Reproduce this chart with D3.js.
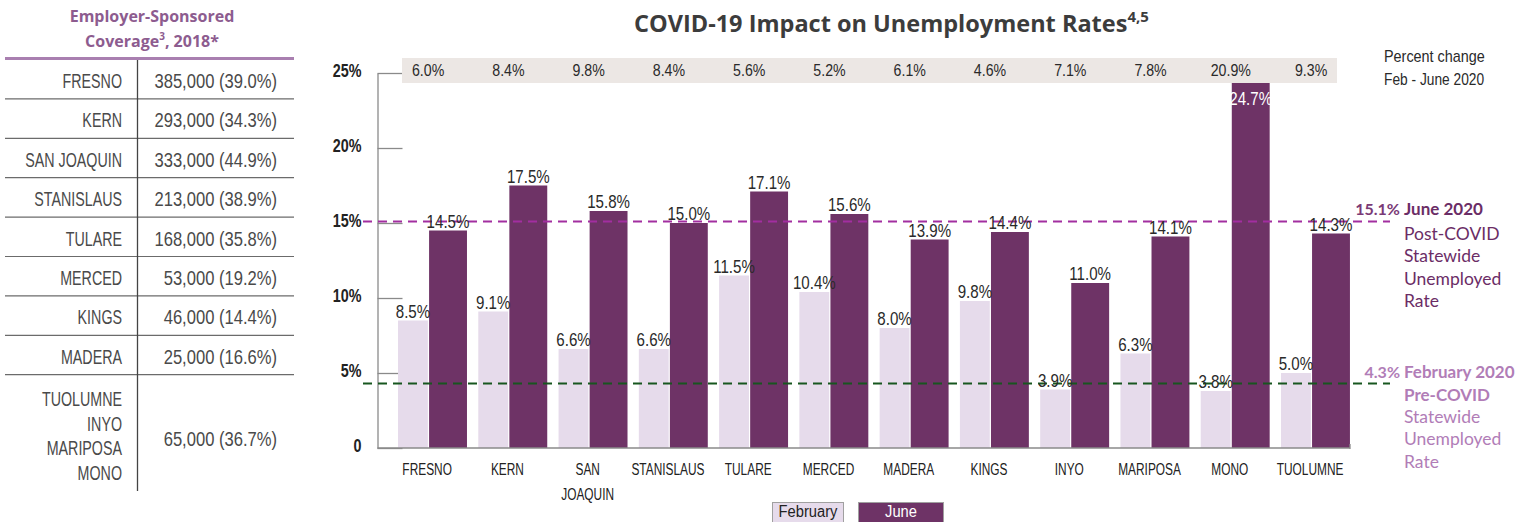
<!DOCTYPE html>
<html>
<head>
<meta charset="utf-8">
<script src="https://cdn.jsdelivr.net/npm/d3@7"></script>
<style>
  html, body { margin: 0; padding: 0; background: #fff; }
  svg { display: block; }
</style>
</head>
<body>
<svg id="chart" width="1535" height="522"></svg>
<script>
// ---------- DATA ----------
const categories = ["FRESNO","KERN","SAN JOAQUIN","STANISLAUS","TULARE","MERCED","MADERA","KINGS","INYO","MARIPOSA","MONO","TUOLUMNE"];
const febValues  = [8.5, 9.1, 6.6, 6.6, 11.5, 10.4, 8.0, 9.8, 3.9, 6.3, 3.8, 5.0];
const juneValues = [14.5, 17.5, 15.8, 15.0, 17.1, 15.6, 13.9, 14.4, 11.0, 14.1, 24.7, 14.3];
const pctChange  = ["6.0%","8.4%","9.8%","8.4%","5.6%","5.2%","6.1%","4.6%","7.1%","7.8%","20.9%","9.3%"];
const yTickValues = [0, 5, 10, 15, 20, 25];
const yTickLabels = ["0", "5%", "10%", "15%", "20%", "25%"];
const juneStatewide = 15.1;
const febStatewide = 4.3;
const seriesNames = ["February", "June"];

const tableCounties = [["FRESNO"],["KERN"],["SAN JOAQUIN"],["STANISLAUS"],["TULARE"],["MERCED"],["KINGS"],["MADERA"],["TUOLUMNE","INYO","MARIPOSA","MONO"]];
const tableValues = ["385,000 (39.0%)","293,000 (34.3%)","333,000 (44.9%)","213,000 (38.9%)","168,000 (35.8%)","53,000 (19.2%)","46,000 (14.4%)","25,000 (16.6%)","65,000 (36.7%)"];

// ---------- STYLE ----------
const FEB_COLOR = "#e6dbeb";
const JUNE_COLOR = "#6e3366";
const TEXT = "#333333";
const LIB = '"Liberation Sans", Arial, sans-serif';
const SANS = '"Open Sans", "Noto Sans", sans-serif';
const LATO = 'Lato, "Open Sans", sans-serif';

const svg = d3.select("#chart");

// condensed text helper (horizontal scaling of Liberation Sans)
function ntext(parent, x, y, str, o) {
  o = Object.assign({ size: 16, sx: 0.8, anchor: "start", weight: 400, fill: TEXT }, o || {});
  return parent.append("text")
    .attr("transform", `translate(${x},${y}) scale(${o.sx},1)`)
    .attr("text-anchor", o.anchor)
    .attr("font-family", LIB).attr("font-size", o.size).attr("font-weight", o.weight)
    .attr("fill", o.fill).text(str);
}

// ---------- TABLE ----------
const tbl = svg.append("g");
tbl.append("text").attr("x", 152).attr("y", 22).attr("text-anchor", "middle")
  .attr("font-family", SANS).attr("font-weight", 700).attr("font-size", 16).attr("fill", "#8d5c8f")
  .text("Employer-Sponsored");
const t2 = tbl.append("text").attr("x", 152).attr("y", 47).attr("text-anchor", "middle")
  .attr("font-family", SANS).attr("font-weight", 700).attr("font-size", 16).attr("fill", "#8d5c8f");
t2.append("tspan").text("Coverage");
t2.append("tspan").attr("font-size", 10).attr("dy", -7).text("3");
t2.append("tspan").attr("dy", 7).text(", 2018*");

tbl.append("line").attr("x1", 5).attr("x2", 294).attr("y1", 58.5).attr("y2", 58.5)
  .attr("stroke", "#a97fb0").attr("stroke-width", 3);

const rowH = 39.4, rowTop = 59.5;
tableCounties.forEach((names, i) => {
  const top = rowTop + i * rowH;
  if (i < tableCounties.length - 1) {
    tbl.append("line").attr("x1", 5).attr("x2", 294).attr("y1", top + rowH).attr("y2", top + rowH)
      .attr("stroke", "#6b6b6b").attr("stroke-width", 1.2);
  }
  if (names.length === 1) {
    ntext(tbl, 122, top + 28.5, names[0], { size: 21, sx: 0.68, anchor: "end", fill: "#4a4a4a" });
    ntext(tbl, 277, top + 28.5, tableValues[i], { size: 21, sx: 0.79, anchor: "end", fill: "#4a4a4a" });
  } else {
    names.forEach((n, j) => {
      ntext(tbl, 122, top + 31 + j * 24.8, n, { size: 21, sx: 0.68, anchor: "end", fill: "#4a4a4a" });
    });
    ntext(tbl, 277, top + 71, tableValues[i], { size: 21, sx: 0.79, anchor: "end", fill: "#4a4a4a" });
  }
});
tbl.append("line").attr("x1", 137.5).attr("x2", 137.5).attr("y1", 60).attr("y2", 491)
  .attr("stroke", "#444").attr("stroke-width", 1.3);

// ---------- CHART ----------
const title = svg.append("text").attr("x", 634).attr("y", 32)
  .attr("font-family", SANS).attr("font-weight", 700).attr("font-size", 23.5).attr("fill", "#3c3c3c");
title.append("tspan").text("COVID-19 Impact on Unemployment Rates");
title.append("tspan").attr("font-size", 15).attr("dy", -10).text("4,5");

const y = d3.scaleLinear().domain([0, 25]).range([448, 73]);
const x0 = d3.scaleBand().domain(categories).range([392, 392 + 12 * 80.27]).padding(0);
const bw = x0.bandwidth();
const febX = c => x0(c) + bw * 0.075, febW = bw * 0.372;
const juneX = c => x0(c) + bw * 0.462, juneW = bw * 0.472;
const axisX = 377.5;

// Y axis
const yAxis = d3.axisLeft(y).tickValues(yTickValues)
  .tickFormat((d, i) => yTickLabels[i])
  .tickSizeInner(-25).tickSizeOuter(0).tickPadding(16);
const ga = svg.append("g").attr("transform", `translate(${axisX},0)`).call(yAxis);
ga.select(".domain").attr("stroke", "#8a8a8a").attr("stroke-width", 1.3);
ga.selectAll(".tick line").attr("stroke", "#8a8a8a").attr("stroke-width", 1.3);
ga.selectAll(".tick text").attr("font-family", LIB).attr("font-weight", 700)
  .attr("font-size", 17.5).attr("fill", "#222").attr("dy", "0.2em")
  .attr("x", -16 / 0.82).attr("transform", "scale(0.82,1)");

// bars
const bars = svg.append("g");
bars.selectAll("rect.feb").data(categories).join("rect").attr("class", "feb")
  .attr("x", c => febX(c)).attr("width", febW)
  .attr("y", (c, i) => y(febValues[i])).attr("height", (c, i) => y(0) - y(febValues[i]))
  .attr("fill", FEB_COLOR);
bars.selectAll("rect.june").data(categories).join("rect").attr("class", "june")
  .attr("x", c => juneX(c)).attr("width", juneW)
  .attr("y", (c, i) => y(juneValues[i])).attr("height", (c, i) => y(0) - y(juneValues[i]))
  .attr("fill", JUNE_COLOR);

// baseline
svg.append("line").attr("x1", axisX).attr("x2", 1350).attr("y1", y(0)).attr("y2", y(0))
  .attr("stroke", "#8a8a8a").attr("stroke-width", 1.3);
svg.append("line").attr("x1", 1350).attr("x2", 1350).attr("y1", y(0) - 4).attr("y2", y(0) + 1)
  .attr("stroke", "#8a8a8a").attr("stroke-width", 1.3);

// dashed statewide lines
svg.append("line").attr("x1", 363).attr("x2", 1390).attr("y1", y(juneStatewide)).attr("y2", y(juneStatewide))
  .attr("stroke", "#a22ea0").attr("stroke-width", 1.8).attr("stroke-dasharray", "9,6");
svg.append("line").attr("x1", 363).attr("x2", 1390).attr("y1", y(febStatewide)).attr("y2", y(febStatewide))
  .attr("stroke", "#17561f").attr("stroke-width", 1.8).attr("stroke-dasharray", "9,6");

// percent change band (drawn on top)
const bandTop = 58, bandBottom = 83;
svg.append("rect").attr("x", 402).attr("y", bandTop).attr("width", 935).attr("height", bandBottom - bandTop)
  .attr("fill", "#ece7e4");
const pctG = svg.append("g");
categories.forEach((c, i) => {
  ntext(pctG, x0(c) + bw / 2 - 4, 76, pctChange[i], { size: 16.5, sx: 0.86, anchor: "middle", fill: "#2a2a2a" });
});

ntext(svg, 1384, 62, "Percent change", { size: 16, sx: 0.9, fill: "#2a2a2a" });
ntext(svg, 1384, 85, "Feb - June 2020", { size: 16, sx: 0.86, fill: "#2a2a2a" });

// value labels
const valG = svg.append("g");
categories.forEach((c, i) => {
  ntext(valG, febX(c) + febW / 2, y(febValues[i]) - 3, febValues[i].toFixed(1) + "%",
    { size: 18, sx: 0.84, anchor: "middle", fill: "#2a2a2a" });
  const top = y(juneValues[i]);
  const inside = top < bandBottom;
  ntext(valG, juneX(c) + juneW / 2, inside ? bandBottom + 22 : top - 3, juneValues[i].toFixed(1) + "%",
    { size: 18, sx: 0.84, anchor: "middle", fill: inside ? "#ffffff" : "#2a2a2a" });
});

// category labels
const catG = svg.append("g");
categories.forEach(c => {
  const words = c === "SAN JOAQUIN" ? ["SAN", "JOAQUIN"] : [c];
  words.forEach((w, j) => {
    ntext(catG, x0(c) + bw / 2 - 5, 475 + j * 25, w, { size: 17, sx: 0.7, anchor: "middle", fill: "#222" });
  });
});

// right annotations
const ann = svg.append("g").attr("font-family", LATO);
ann.append("text").attr("x", 1400).attr("y", 215).attr("text-anchor", "end").attr("font-weight", 700)
  .attr("font-size", 16).attr("fill", "#7a3a76").text(juneStatewide.toFixed(1) + "%");
ann.append("text").attr("x", 1404).attr("y", 215).attr("font-weight", 700)
  .attr("font-size", 17).attr("fill", "#6b2d66").text("June 2020");
["Post-COVID", "Statewide", "Unemployed", "Rate"].forEach((t, i) => {
  ann.append("text").attr("x", 1404).attr("y", 240 + i * 22.3).attr("font-size", 17.5)
    .attr("fill", "#6b2d66").text(t);
});
ann.append("text").attr("x", 1400).attr("y", 378).attr("text-anchor", "end").attr("font-weight", 700)
  .attr("font-size", 16).attr("fill", "#b17db7").text(febStatewide.toFixed(1) + "%");
ann.append("text").attr("x", 1404).attr("y", 378).attr("font-weight", 700)
  .attr("font-size", 17).attr("fill", "#b17db7").text("February 2020");
ann.append("text").attr("x", 1404).attr("y", 400.5).attr("font-weight", 700)
  .attr("font-size", 17).attr("fill", "#b17db7").text("Pre-COVID");
["Statewide", "Unemployed", "Rate"].forEach((t, i) => {
  ann.append("text").attr("x", 1404).attr("y", 423 + i * 22.3).attr("font-size", 17.5)
    .attr("fill", "#b17db7").text(t);
});

// legend
const legend = svg.append("g");
const legendItems = [
  { name: seriesNames[0], x: 772, w: 71, fill: FEB_COLOR, text: "#222" },
  { name: seriesNames[1], x: 858, w: 85, fill: JUNE_COLOR, text: "#fff" }
];
legendItems.forEach(it => {
  legend.append("rect").attr("x", it.x + 0.5).attr("y", 502.5).attr("width", it.w).attr("height", 22)
    .attr("fill", it.fill).attr("stroke", "#a0a0a0").attr("stroke-width", 1);
  ntext(legend, it.x + it.w / 2 + 0.5, 517, it.name, { size: 16, sx: 0.92, anchor: "middle", fill: it.text });
});
</script>
</body>
</html>
